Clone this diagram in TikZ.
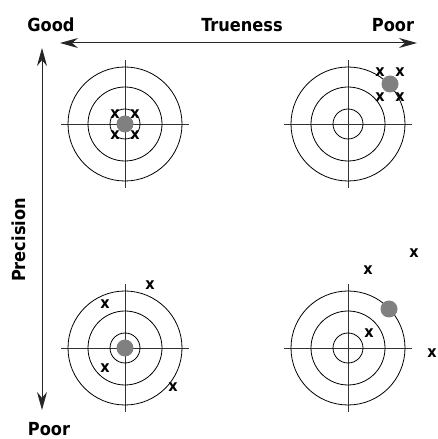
\documentclass[tikz,border=0pt]{standalone}
\usepackage{fontspec}
\setsansfont{DejaVu Sans Condensed}
\usetikzlibrary{arrows.meta}

\begin{document}
\begin{tikzpicture}[
  x=1pt, y=1pt,
  font=\sffamily\bfseries\fontsize{18}{19}\selectfont,
  >={Stealth[length=18pt, width=10pt]},
  lbl/.style={inner sep=0pt, anchor=base},
  hit/.style={inner sep=0pt, font=\sffamily\bfseries\fontsize{16}{16}\selectfont},
  ring/.style={draw=black, line width=0.8pt},
  cross/.style={draw=black!80, line width=0.8pt},
  dot/.style={circle, fill=black!50, inner sep=0pt, minimum size=17pt},
  axis/.style={<->, line width=1pt, draw=black!85}
]
  \useasboundingbox (0,0) rectangle (437,439);

  % axis labels
  \node[lbl] (good) at (51,407.5) {Good};
  \node[lbl] (trueness) at (242,407.5) {Trueness};
  \node[lbl] (poortop) at (393,407.5) {Poor};
  \node[inner sep=0pt, rotate=90] (precision) at (19,199) {Precision};
  \node[lbl] (poorleft) at (49,4) {Poor};

  % axes
  \coordinate (tl) at (60,396);
  \coordinate (tr) at (417,396);
  \coordinate (lt) at (42,391);
  \coordinate (lb) at (42,29);
  \draw[axis] (tl) -- (tr);
  \draw[axis] (lt) -- (lb);

  % targets
  \coordinate (goodgood) at (125,315);
  \coordinate (poorgood) at (348,315);
  \coordinate (goodpoor) at (125,91);
  \coordinate (poorpoor) at (348,91);
  \foreach \c in {goodgood,poorgood,goodpoor,poorpoor}{
    \draw[cross] ([xshift=-64pt]\c) -- ([xshift=64pt]\c);
    \draw[cross] ([yshift=-64pt]\c) -- ([yshift=64pt]\c);
    \draw[ring] (\c) circle[radius=15pt];
    \draw[ring] (\c) circle[radius=37pt];
    \draw[ring] (\c) circle[radius=57pt];
  }

  % true + precise
  \node[dot] (m1) at (goodgood) {};
  \node[hit] (a1) at (115,325) {x};
  \node[hit] (a2) at (135,325) {x};
  \node[hit] (a3) at (115,304) {x};
  \node[hit] (a4) at (135,304) {x};

  % precise, not true
  \node[dot] (m2) at (390,355) {};
  \node[hit] (b1) at (380,367) {x};
  \node[hit] (b2) at (400,367) {x};
  \node[hit] (b3) at (380,342) {x};
  \node[hit] (b4) at (400,342) {x};

  % true, not precise
  \node[dot] (m3) at (goodpoor) {};
  \node[hit] (c1) at (150,154) {x};
  \node[hit] (c2) at (105,135) {x};
  \node[hit] (c3) at (105,71) {x};
  \node[hit] (c4) at (173,52) {x};

  % neither
  \node[dot] (m4) at (389,130) {};
  \node[hit] (d1) at (414,186) {x};
  \node[hit] (d2) at (368,169) {x};
  \node[hit] (d3) at (369,106) {x};
  \node[hit] (d4) at (432,86) {x};
\end{tikzpicture}
\end{document}
